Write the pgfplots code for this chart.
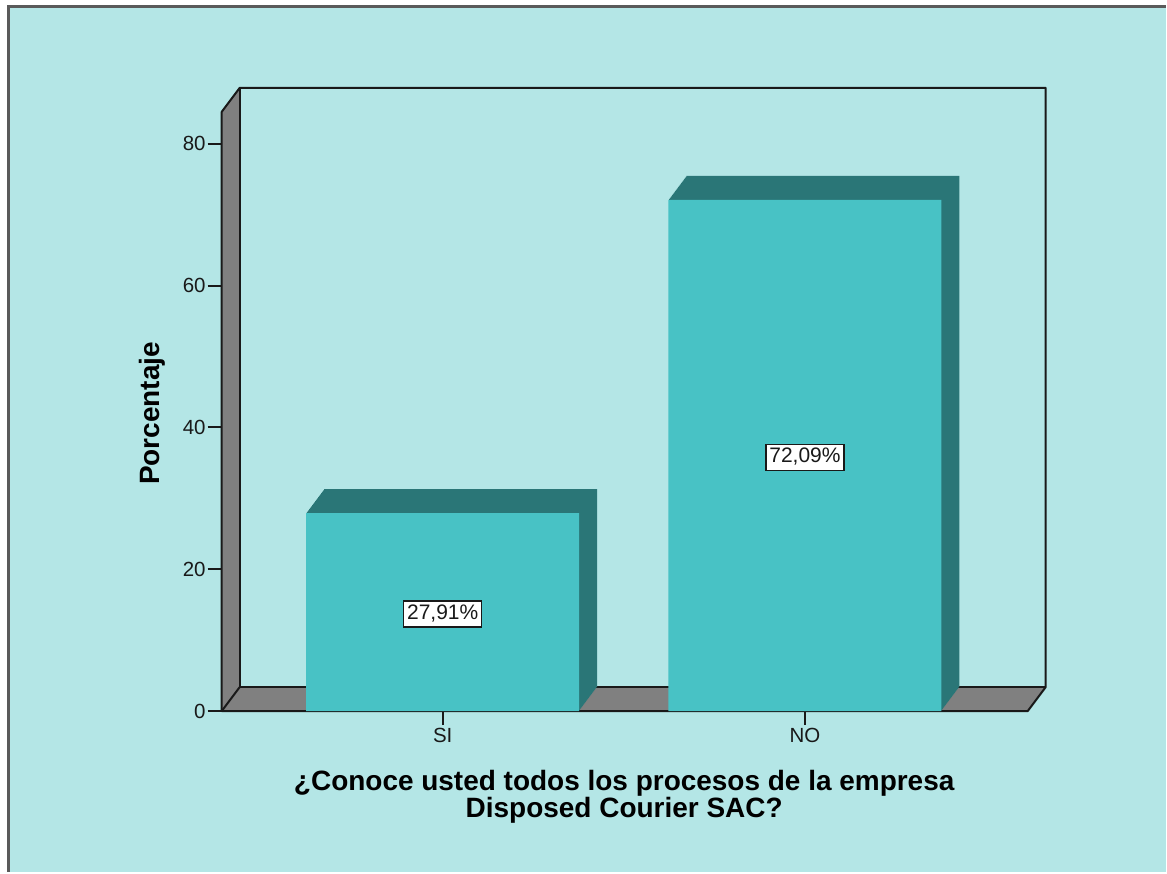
\documentclass[border=0pt]{standalone}
\usepackage{pgfplots}
\pgfplotsset{compat=1.18}
\usepackage{pgfplotstable}
\usepackage{fontspec}
\setmainfont{Liberation Sans}
\definecolor{bgcyan}{RGB}{180,230,230}
\definecolor{barface}{RGB}{72,194,197}
\definecolor{bardark}{RGB}{42,118,119}
\definecolor{wallgray}{RGB}{128,128,128}
\definecolor{framegray}{RGB}{90,90,90}
\definecolor{ink}{RGB}{25,25,25}

\pgfplotstableread{
x y
0 27.91
1 72.09
}\data

\begin{document}
\begin{tikzpicture}[x=1pt,y=1pt]
\fill[white] (0,0) rectangle (1167,873);
\fill[bgcyan] (8,0) rectangle (1167,866);
\draw[framegray, line width=3pt] (8.5,0) -- (8.5,866.5) -- (1167,866.5);
\begin{axis}[
  at={(222pt,161pt)}, anchor=south west,
  scale only axis, width=807pt, height=600pt,
  xmin=-0.61, xmax=1.615, ymin=0, ymax=84.5,
  clip=false,
  axis line style={draw=none},
  tick pos=left, tick align=outside,
  major tick length=14pt,
  every tick/.style={ink, line width=2pt},
  xtick={0,1}, xticklabels={SI,NO},
  ytick={0,20,40,60,80},
  tick label style={font=\fontsize{20.5}{24}\selectfont, text=ink},
  yticklabel style={inner xsep=2pt},
  /pgf/number format/assume math mode=true,
]
\fill[wallgray] (rel axis cs:0,0) -- (rel axis cs:1,0) -- ++(18pt,24pt) -- ([shift={(18pt,24pt)}]rel axis cs:0,0) -- cycle;
\fill[wallgray] (rel axis cs:0,0) -- (rel axis cs:0,1) -- ++(18pt,24pt) -- ([shift={(18pt,24pt)}]rel axis cs:0,0) -- cycle;
\draw[ink, line width=2pt, line join=round]
  ([shift={(18pt,24pt)}]rel axis cs:0,1) -- ([shift={(18pt,24pt)}]rel axis cs:0,0) -- ([shift={(18pt,24pt)}]rel axis cs:1,0);
\draw[ink, line width=2pt, line join=round]
  ([shift={(18pt,24pt)}]rel axis cs:0,1) -- ([shift={(18pt,24pt)}]rel axis cs:1,1) -- ([shift={(18pt,24pt)}]rel axis cs:1,0)
  -- (rel axis cs:1,0) -- (rel axis cs:0,0) -- (rel axis cs:0,1) -- cycle;
\draw[ink, line width=2pt] (rel axis cs:0,0) -- ([shift={(18pt,24pt)}]rel axis cs:0,0);
% depth of the bars (swept copies)
\pgfplotsinvokeforeach{24,23,...,1}{
  \addplot[ybar, bar width=0.754, bar shift=0, fill=bardark, draw=none, xshift=#1*0.75pt, yshift=#1*1pt]
    table[x=x, y=y]{\data};
}
% front faces
\addplot[ybar, bar width=0.754, bar shift=0, fill=barface, draw=none] table[x=x, y=y]{\data};
% value labels
\addplot[draw=none, mark=none, point meta=\thisrow{y},
  nodes near coords={\pgfmathprintnumber[fixed, fixed zerofill, precision=2, use comma, assume math mode=true]{\pgfplotspointmeta}\%},
  every node near coord/.style={anchor=center, yshift=-2pt, fill=white, draw=ink, line width=1.5pt,
    font=\fontsize{21}{24}\selectfont, text=ink, inner xsep=3.5pt, inner ysep=2.5pt, text height=16pt, text depth=5pt}]
  table[x=x, y expr=\thisrow{y}/2]{\data};
\end{axis}
\node[rotate=90, font=\bfseries\fontsize{28}{28}\selectfont, text=black] at (152,459) {Porcentaje};
\node[align=center, font=\bfseries\fontsize{28}{24}\selectfont, text=black] at (625,75) {¿Conoce usted todos los procesos de la empresa\\Disposed Courier SAC?};
\end{tikzpicture}
\end{document}
